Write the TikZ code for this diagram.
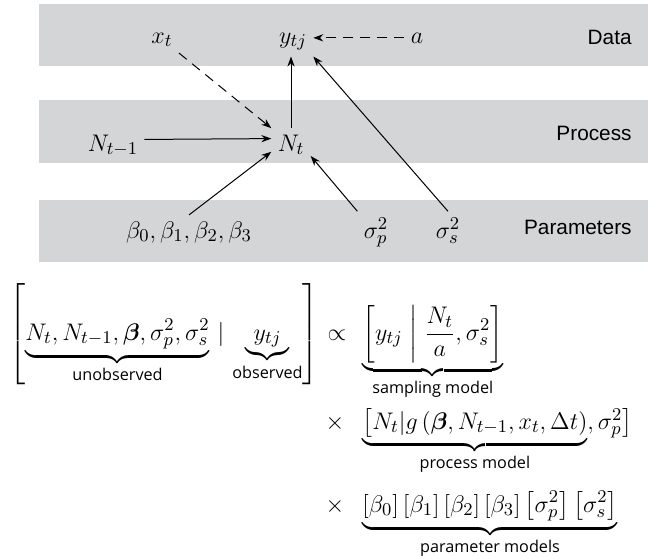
\documentclass[tikz,border=0pt]{standalone}
\usepackage{amsmath,bm}
\usepackage{fontspec}
\newfontfamily\bandfont{Liberation Sans}
\newfontfamily\labfont{Open Sans}
\usetikzlibrary{arrows.meta}
\definecolor{bandgray}{RGB}{212,213,215}
\newcommand{\lab}[1]{\text{\labfont\fontsize{8.1}{9}\selectfont #1}}
\begin{document}
\begin{tikzpicture}[x=0.5pt,y=-0.5pt,
  font=\fontsize{12.5}{15}\selectfont,
  band/.style={fill=bandgray,draw=none},
  bandlabel/.style={font=\bandfont\fontsize{10.4}{12}\selectfont,anchor=east,inner sep=0pt},
  var/.style={inner sep=3pt,anchor=base},
  arr/.style={-{Stealth[length=5pt,width=3.6pt]},line width=0.5pt},
  darr/.style={arr,dash pattern=on 5pt off 3.5pt},
  eq/.style={inner sep=0pt,anchor=base west}]
\useasboundingbox (0,0) rectangle (648,558);
% bands
\fill[band] (39,4) rectangle (648,66);
\fill[band] (39,100) rectangle (648,163);
\fill[band] (39,200) rectangle (648,262);
\node[bandlabel] (ldata) at (632,37) {Data};
\node[bandlabel] (lproc) at (632,133) {Process};
\node[bandlabel] (lpar) at (632,227) {Parameters};
% variables
\node[var] (xt) at (162,43) {$x_t$};
\node[var] (ytj) at (293,43) {$y_{tj}$};
\node[var] (a) at (417,43) {$a$};
\node[var] (Ntm) at (113,151) {$N_{t-1}$};
\node[var] (Nt) at (291,151) {$N_t$};
\node[var] (beta) at (189,238) {$\beta_0,\beta_1,\beta_2,\beta_3$};
\node[var] (sp) at (376,238) {$\sigma_p^2$};
\node[var] (ss) at (448,238) {$\sigma_s^2$};
% connectors
\draw[darr] (xt.south east) -- (Nt.north west);
\draw[darr] (a.west) -- (a.west -| ytj.east);
\draw[arr] (Nt.north) -- (Nt.north |- ytj.south);
\draw[arr] ([yshift=3pt]Ntm.east) -- ([yshift=3pt]Nt.west);
\draw[arr] (beta.north) -- (Nt.200);
\draw[arr] (sp.north west) -- (Nt.-30);
\draw[arr] (ss.north) -- (ytj.south east);
% equation
\node[eq] (lhs) at (9,340) {$\left[\underbrace{N_t, N_{t-1}, \bm{\beta}, \sigma_p^2, \sigma_s^2}_{\lab{unobserved}}\,|\,\underbrace{y_{tj}}_{\lab{observed}}\right]$};
\node[eq,anchor=base] (prop) at (337,340) {$\propto$};
\node[eq] (samp) at (362,340) {$\underbrace{\left[y_{tj}\;\middle|\;\frac{N_t}{a},\sigma_s^2\right]}_{\lab{sampling model}}$};
\node[eq,anchor=base] (times1) at (335,429) {$\times$};
\node[eq] (proc) at (362,429) {$\underbrace{\bigl[N_t|g\left(\bm{\beta},N_{t-1},x_t,\Delta t\right)}_{\lab{process model}},\sigma_p^2\bigr]$};
\node[eq,anchor=base] (times2) at (335,512) {$\times$};
\node[eq] (par) at (362,512) {$\underbrace{[\beta_0]\,[\beta_1]\,[\beta_2]\,[\beta_3]\,\bigl[\sigma_p^2\bigr]\,\bigl[\sigma_s^2\bigr]}_{\lab{parameter models}}$};
\end{tikzpicture}
\end{document}
